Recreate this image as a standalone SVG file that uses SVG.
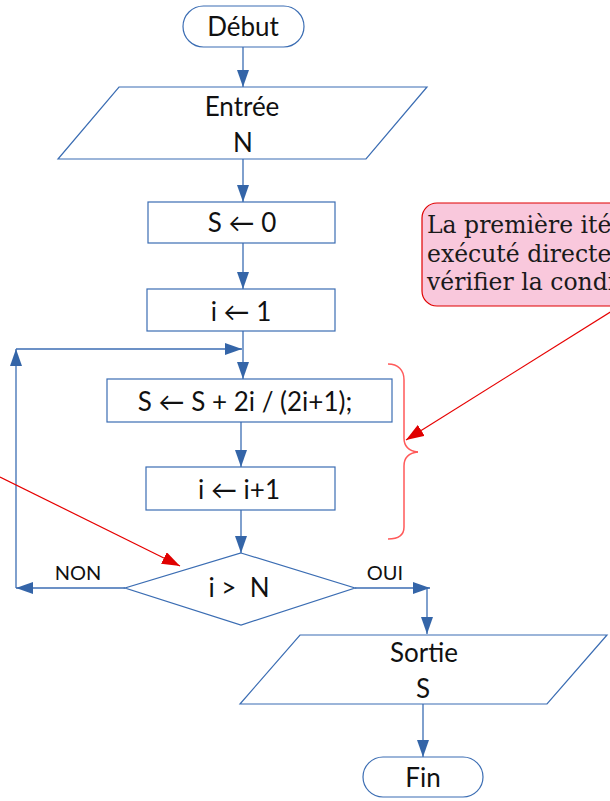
<svg xmlns="http://www.w3.org/2000/svg" width="610" height="801" viewBox="0 0 610 801">
  <style>
    .shape { fill: #ffffff; stroke: #3b6db3; stroke-width: 1.2; }
    .flow { fill: none; stroke: #3b6db3; stroke-width: 1.3; }
    .lbl { font-family: Lato, "Liberation Sans", sans-serif; font-size: 26px; fill: #111111; text-anchor: middle; white-space: pre; }
    .small { font-size: 20px; }
    .note { font-family: "DejaVu Serif", "Liberation Serif", serif; font-size: 23.5px; fill: #1a1a1a; }
    .red { fill: none; stroke: #e60000; stroke-width: 1.2; }
    .brace { fill: none; stroke: #ff5a5a; stroke-width: 1.5; }
  </style>
  <defs>
    <marker id="ah" viewBox="0 0 17 12" refX="17" refY="6" markerWidth="17" markerHeight="12" markerUnits="userSpaceOnUse" orient="auto">
      <path d="M0,0 L17,6 L0,12 z" fill="#3465a8"/>
    </marker>
    <marker id="ahRed" viewBox="0 0 18 13" refX="18" refY="6.5" markerWidth="18" markerHeight="13" markerUnits="userSpaceOnUse" orient="auto">
      <path d="M0,0 L18,6.5 L0,13 z" fill="#e00000"/>
    </marker>
  </defs>

  <!-- connectors -->
  <g id="connectors">
    <line class="flow" x1="243" y1="47" x2="243" y2="87" marker-end="url(#ah)"/>
    <line class="flow" x1="243" y1="159" x2="243" y2="202" marker-end="url(#ah)"/>
    <line class="flow" x1="243" y1="243" x2="243" y2="289" marker-end="url(#ah)"/>
    <line class="flow" x1="243" y1="331" x2="243" y2="379" marker-end="url(#ah)"/>
    <line class="flow" x1="241" y1="422" x2="241" y2="467" marker-end="url(#ah)"/>
    <line class="flow" x1="241" y1="510" x2="241" y2="553" marker-end="url(#ah)"/>
    <!-- NON branch back to the loop start -->
    <line class="flow" x1="125" y1="588" x2="16" y2="588" marker-end="url(#ah)"/>
    <line class="flow" x1="16" y1="588" x2="16" y2="349" marker-end="url(#ah)"/>
    <line class="flow" x1="16" y1="349" x2="242" y2="349" marker-end="url(#ah)"/>
    <!-- OUI branch -->
    <line class="flow" x1="355" y1="588" x2="430" y2="588" marker-end="url(#ah)"/>
    <line class="flow" x1="427" y1="588" x2="427" y2="634" marker-end="url(#ah)"/>
    <line class="flow" x1="423" y1="704" x2="423" y2="757" marker-end="url(#ah)"/>
    <text class="lbl small" x="78" y="580">NON</text>
    <text class="lbl small" x="385" y="580">OUI</text>
  </g>

  <g id="debut">
    <rect class="shape" x="183" y="6" width="121" height="41" rx="20.5"/>
    <text class="lbl" x="243" y="36">Début</text>
  </g>

  <g id="entree">
    <polygon class="shape" points="119,87 427,87 366,159 58,159"/>
    <text class="lbl" x="242" y="116">Entrée</text>
    <text class="lbl" x="243" y="152">N</text>
  </g>

  <g id="init-s">
    <rect class="shape" x="148" y="202" width="187" height="41"/>
    <text class="lbl" x="242" y="232">S ← 0</text>
  </g>

  <g id="init-i">
    <rect class="shape" x="147" y="289" width="188" height="42"/>
    <text class="lbl" x="241" y="321">i ← 1</text>
  </g>

  <g id="accumulate">
    <rect class="shape" x="107" y="379" width="285" height="43"/>
    <text class="lbl" x="245" y="411">S ← S + 2i / (2i+1);</text>
  </g>

  <g id="increment">
    <rect class="shape" x="146" y="467" width="189" height="43"/>
    <text class="lbl" x="239" y="499">i ← i+1</text>
  </g>

  <g id="test">
    <polygon class="shape" points="241,553 355,588 241,625 125,588"/>
    <text class="lbl" x="239" y="597">i &gt;  N</text>
  </g>

  <g id="sortie">
    <polygon class="shape" points="300,635 607,635 547,704 240,704"/>
    <text class="lbl" x="424" y="662">Sortie</text>
    <text class="lbl" x="423" y="698">S</text>
  </g>

  <g id="fin">
    <rect class="shape" x="363" y="757" width="120" height="40" rx="20"/>
    <text class="lbl" x="423" y="787">Fin</text>
  </g>

  <!-- annotation: loop body brace, callout and pointers -->
  <g id="annotation">
    <path class="brace" d="M388,364 C398,364 404,370 404,380 L404,438 C404,446 408,451 418,452"/>
    <path class="brace" d="M418,452 C408,453 404,458 404,466 L404,527 C404,535 398,539 388,539"/>
    <rect x="422" y="203" width="230" height="103" rx="15" fill="#f9c8dc" stroke="#e00000" stroke-width="1.2"/>
    <text class="note" x="427" y="233">La première ité</text>
    <text class="note" x="427" y="262">exécuté directe</text>
    <text class="note" x="427" y="290">vérifier la condi</text>
    <line class="red" x1="612" y1="311" x2="406" y2="440" marker-end="url(#ahRed)"/>
    <line class="red" x1="0" y1="477" x2="180" y2="566" marker-end="url(#ahRed)"/>
  </g>
</svg>
